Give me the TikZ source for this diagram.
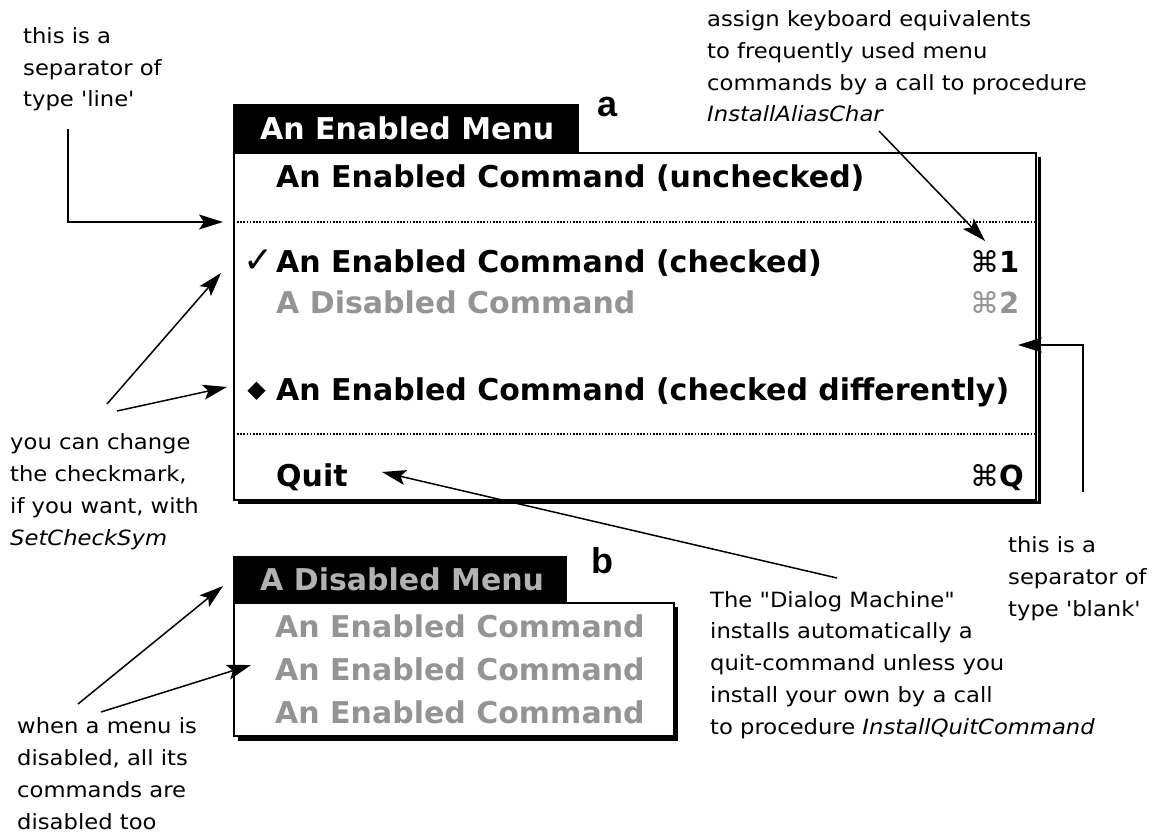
\documentclass[tikz,border=0pt]{standalone}
\usepackage{fontspec}
\setmainfont{DejaVu Sans}
\newfontfamily\notefont{DejaVu Sans}[FakeStretch=1.08]
\newfontfamily\labfont{Liberation Sans}
\usetikzlibrary{arrows.meta}
\begin{document}
\begin{tikzpicture}[x=1pt,y=-1pt,
  note/.style={anchor=base west, align=left, inner sep=0pt,
    font=\notefont\fontsize{21}{31.7}\selectfont},
  item/.style={anchor=base west, inner sep=0pt,
    font=\fontsize{30}{32}\selectfont\bfseries},
  ditem/.style={item, text=black!42},
  dtitle/.style={item, text=black!30},
  sym/.style={anchor=base west, inner sep=0pt, font=\fontsize{29}{32}\selectfont},
  lab/.style={anchor=base west, inner sep=0pt, font=\labfont\fontsize{36}{36}\selectfont\bfseries},
  arr/.style={-{Stealth[length=24pt,width=15pt,inset=5pt]}, line width=1.5pt},
  sepline/.style={line width=1.8pt, dash pattern=on 1.6pt off 1.6pt},
  frame/.style={draw=black, fill=white, line width=2pt},
  shadow/.style={line width=3.5pt},
]
\useasboundingbox (0,0) rectangle (1162,834);
\fill[white] (0,0) rectangle (1162,834);

% ---------- menu a ----------
\draw[shadow] (1039.5,157) -- (1039.5,502.5) -- (238,502.5);
\draw[frame] (234,153) rectangle (1036,499.5);
\fill[black] (233,104) rectangle (579,154);
\node[item, text=white] (ta) at (260,140) {An Enabled Menu};
\node[lab] (la) at (597,117) {a};

\node[item] (a1) at (276,188) {An Enabled Command (unchecked)};
\draw[sepline] (237,222) -- (1034,222);
\node[sym, anchor=base east, font=\fontsize{36}{36}\selectfont] (ck) at (274,273) {✓};
\node[item] (a2) at (276,273) {An Enabled Command (checked)};
\node[sym] (k1) at (970,273) {⌘\bfseries 1};
\node[ditem] (a3) at (276,314) {A Disabled Command};
\node[sym, text=black!42] (k2) at (970,314) {⌘\bfseries 2};
\node[sym, anchor=base east, font=\fontsize{24}{32}\selectfont] (dm) at (266,397) {◆};
\node[item] (a4) at (276,400) {An Enabled Command (checked differently)};
\draw[sepline] (237,434) -- (1034,434);
\node[item] (a5) at (276,486) {Quit};
\node[sym] (kq) at (970,486) {⌘\bfseries Q};

% ---------- menu b ----------
\draw[shadow] (676.5,607) -- (676.5,739) -- (238,739);
\draw[frame] (234,603) rectangle (673.5,736);
\fill[black] (233,556) rectangle (567,604);
\node[dtitle] (tb) at (260,590) {A Disabled Menu};
\node[lab] (lb) at (591,573) {b};
\node[ditem] (b1) at (275,637) {An Enabled Command};
\node[ditem] (b2) at (275,680) {An Enabled Command};
\node[ditem] (b3) at (275,723) {An Enabled Command};

% ---------- notes (anchored at the baseline of the last line) ----------
\node[note] (nLine) at (23,107) {this is a\\separator of\\type 'line'};
\node[note] (nKey) at (707,122) {assign keyboard equivalents\\to frequently used menu\\commands by a call to procedure\\\textit{InstallAliasChar}};
\node[note] (nCheck) at (10,545) {you can change\\the checkmark,\\if you want, with\\\textit{SetCheckSym}};
\node[note] (nDis) at (17,829) {when a menu is\\disabled, all its\\commands are\\disabled too};
\node[note] (nQuit) at (710,734) {The "Dialog Machine"\\installs automatically a\\quit-command unless you\\install your own by a call\\to procedure \textit{InstallQuitCommand}};
\node[note] (nBlank) at (1008,616) {this is a\\separator of\\type 'blank'};

% ---------- connectors ----------
\coordinate (tLine) at (68,129);
\coordinate (hLine) at (223,222);
\draw[arr] (tLine) |- (hLine);

\coordinate (tKey) at (879,131);
\coordinate (hKey) at (985,241);
\draw[arr] (tKey) -- (hKey);

\coordinate (tCk1) at (107,404);
\coordinate (hCk1) at (221,273);
\draw[arr] (tCk1) -- (hCk1);
\coordinate (tCk2) at (117,411);
\coordinate (hCk2) at (227,387);
\draw[arr] (tCk2) -- (hCk2);

\coordinate (tDs1) at (78,704);
\coordinate (hDs1) at (223,586);
\draw[arr] (tDs1) -- (hDs1);
\coordinate (tDs2) at (101,712);
\coordinate (hDs2) at (251,665);
\draw[arr] (tDs2) -- (hDs2);

\coordinate (tQuit) at (837,578);
\coordinate (hQuit) at (382,472);
\draw[arr] (tQuit) -- (hQuit);

\coordinate (tBlank) at (1083,492);
\coordinate (hBlank) at (1018,345);
\draw[arr] (tBlank) |- (hBlank);
\end{tikzpicture}
\end{document}
